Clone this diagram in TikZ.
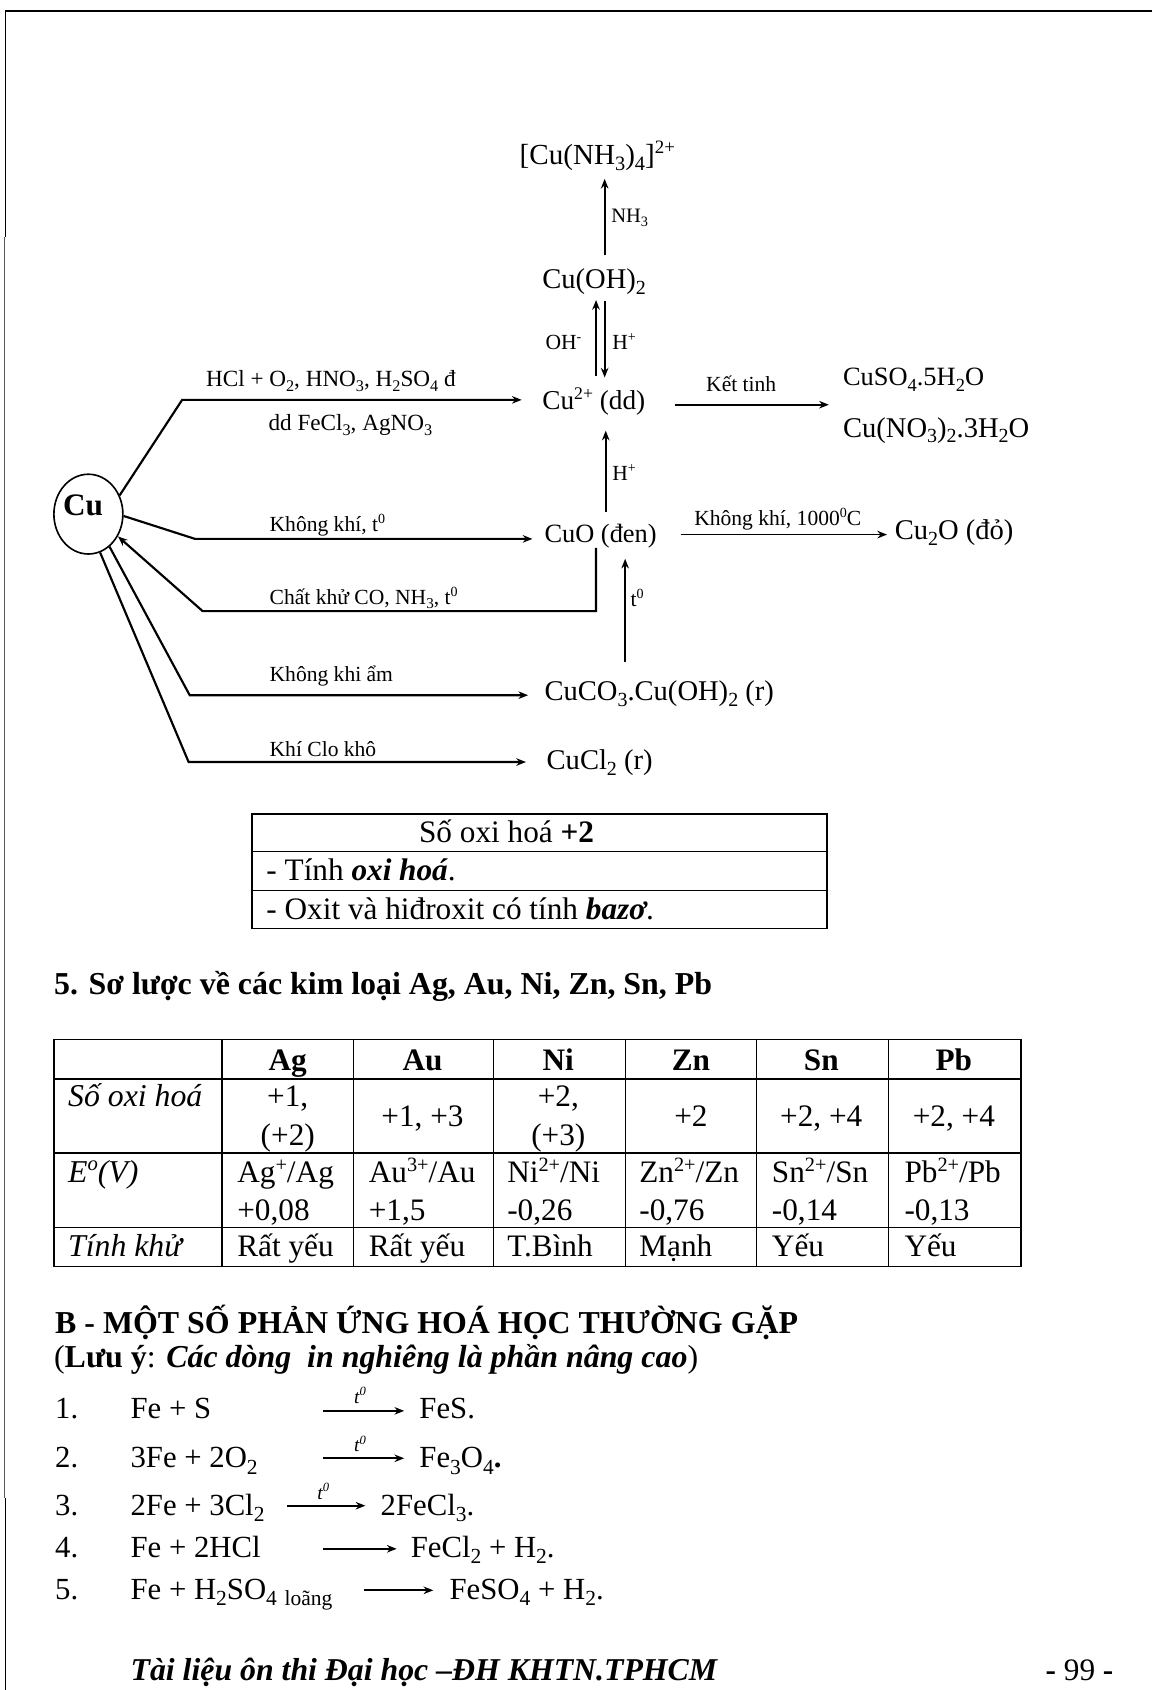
\documentclass[tikz,border=0pt]{standalone}
\usepackage{graphicx}
\usepackage{fontspec}
\setmainfont{Liberation Serif}
\usetikzlibrary{arrows.meta,shapes.geometric}
\newcommand\hii[1]{\raisebox{0.38em}{\scalebox{0.65}{#1}}}
\newcommand\loo[1]{\raisebox{-0.2em}{\scalebox{0.7}{#1}}}
\newcommand\fs[1]{\fontsize{#1}{#1}\selectfont}
\tikzset{
 x=1pt,y=-1pt,
 lab/.style={inner sep=0pt,anchor=base west},
 cen/.style={inner sep=0pt,anchor=base},
 big/.style={lab,font=\fs{26.5}},
 mid/.style={lab,font=\fs{24.5}},
 small/.style={lab,font=\fs{20}},
 body/.style={lab,font=\fs{29}},
 cell/.style={cen,font=\fs{29}},
 cellb/.style={cen,font=\fs{29}\bfseries},
 celli/.style={lab,font=\fs{29.5}\itshape},
 head/.style={lab,font=\fs{29.6}\bfseries},
 bold/.style={line width=2pt},
 thin1/.style={line width=1.6pt},
 tip/.style={-{Stealth[length=9pt,width=7pt]}},
 rule/.style={line width=1.1pt},
 rulethick/.style={line width=1.6pt},
}
\begin{document}
\begin{tikzpicture}
\useasboundingbox (0,0) rectangle (1069,1568);
% page frame
\draw[line width=1.6pt] (1069,10) -- (5,10) -- (5,220);
\draw[line width=1.4pt,black!65] (4,220) -- (4,1390);
\draw[line width=1.6pt] (5,1390) -- (5,1568);
% Cu
\node[ellipse,draw,line width=1.5pt,minimum width=64pt,minimum height=74pt,inner sep=0pt] (cu) at (82,477) {};
\node[cen,font=\fs{29}\bfseries] (cutxt) at (77,478) {Cu};
% compounds
\node[big,font=\fs{27}] (amm) at (482,153) {[Cu(NH\loo{3})\loo{4}]\hii{2+}};
\node[big] (cuoh) at (503,267.5) {Cu(OH)\loo{2}};
\node[big,font=\fs{25.3}] (cu2) at (503,380) {Cu\hii{2+} (dd)};
\node[mid] (sulf) at (782,358) {CuSO\loo{4}.5H\loo{2}O};
\node[big,font=\fs{26.5}] (nitr) at (782,405.5) {Cu(NO\loo{3})\loo{2}.3H\loo{2}O};
\node[big,font=\fs{24.5}] (cuo) at (505,503) {CuO (đen)};
\node[big] (cu2o) at (830,501) {Cu\loo{2}O (đỏ)};
\node[big] (carb) at (505,650) {CuCO\loo{3}.Cu(OH)\loo{2} (r)};
\node[big] (cucl) at (507,714) {CuCl\loo{2} (r)};
% edge labels
\node[small,font=\fs{19}] (lnh) at (567,206) {NH\loo{3}};
\node[small] (loh) at (506,324) {OH\hii{-}};
\node[small] (lh1) at (568,324) {H\hii{+}};
\node[small,font=\fs{21.5}] (lhcl) at (191,359) {HCl + O\loo{2}, HNO\loo{3}, H\loo{2}SO\loo{4} đ};
\node[small,font=\fs{21.5}] (lfe) at (249,399.5) {dd FeCl\loo{3}, AgNO\loo{3}};
\node[small] (lkt) at (655,363) {Kết tinh};
\node[small] (lh2) at (568,446) {H\hii{+}};
\node[small] (lkk) at (250,493) {Không khí, t\hii{0}};
\node[small] (lkk2) at (644,487.5) {Không khí, 1000\hii{0}C};
\node[small] (lck) at (250,561) {Chất khử CO, NH\loo{3}, t\hii{0}};
\node[small] (lt) at (585,563) {t\hii{0}};
\node[small] (lka) at (250,632.5) {Không khi ẩm};
\node[small] (lcl) at (250,702) {Khí Clo khô};
% helper coordinates
\coordinate (w1) at (169,371);
\coordinate (w2) at (181,500);
\coordinate (w3) at (188,567);
\coordinate (w4) at (176,645);
\coordinate (w5) at (175,707);
\coordinate (xnh) at (561,237);
\coordinate (xu) at (553,0);
\coordinate (xd) at (561,0);
\coordinate (xh) at (562,0);
\coordinate (xt) at (580,0);
\coordinate (xr) at (553,567);
\coordinate (ykt) at (0,375.5);
\coordinate (ykk) at (0,496);
% connectors from Cu
\draw[bold,tip,shorten >=19pt] (cu.31) -- (w1) -- (w1 -| cu2.west);
\draw[bold,tip,shorten >=11pt] (cu.-3) -- (w2) -- (w2 -| cuo.west);
\draw[bold,tip] (xr |- cuo.south) -- (xr) -- (w3) -- (cu.-37);
\draw[bold,tip,shorten >=15pt] (cu.-57) -- (w4) -- (w4 -| carb.west);
\draw[bold,tip,shorten >=19pt] (cu.-73) -- (w5) -- (w5 -| cucl.west);
% vertical arrows
\draw[thin1,tip,shorten >=7pt] (xnh) -- (xnh |- amm.south);
\draw[thin1,tip,shorten <=10pt,shorten >=5pt] (xu |- cu2.north) -- (xu |- cuoh.south);
\draw[thin1,tip,shorten <=6pt,shorten >=9pt] (xd |- cuoh.south) -- (xd |- cu2.north);
\draw[thin1,tip,shorten <=11pt,shorten >=14pt] (xh |- cuo.north) -- (xh |- cu2.south);
\draw[thin1,tip,shorten <=17pt,shorten >=10pt] (xt |- carb.north) -- (xt |- cuo.south);
% horizontal arrows
\draw[thin1,tip,shorten <=27pt,shorten >=13pt] (cu2.east |- ykt) -- (sulf.west |- ykt);
\draw[thin1,tip,shorten <=22pt,shorten >=7pt] (cuo.east |- ykk) -- (cu2o.west |- ykk);
% box
\node[cen,font=\fs{29}] (b1) at (470,782) {Số oxi hoá \textbf{+2}};
\node[body] (b2) at (247,817) {- Tính \textbf{\itshape oxi hoá}.};
\node[body] (b3) at (247,853) {- Oxit và hiđroxit có tính \textbf{\itshape bazơ}.};
\draw[rulethick] (234,755) rectangle (767,861.5);
\draw[rule] (234,790) -- (767,790) (234,826) -- (767,826);
% heading
\node[head] (h5) at (50,923) {5. Sơ lược về các kim loại Ag, Au, Ni, Zn, Sn, Pb};
% table
\draw[rulethick] (50,964.5) rectangle (947,1175);
\draw[rulethick] (50,1001) -- (947,1001) (50,1070) -- (947,1070) (50,1139) -- (947,1139);
\foreach \xx in {206,328,458,580,702,824} \draw[rule] (\xx,964.5) -- (\xx,1175);
\node[cellb] (tag) at (267,993) {Ag};
\node[cellb] (tau) at (392,993) {Au};
\node[cellb] (tni) at (518,993) {Ni};
\node[cellb] (tzn) at (641,993) {Zn};
\node[cellb] (tsn) at (762,993) {Sn};
\node[cellb] (tpb) at (885,993) {Pb};
\node[celli] (r1) at (63,1027) {Số oxi hoá};
\node[cell] (c11) at (267,1027) {+1,};
\node[cell] (c12) at (267,1063) {(+2)};
\node[cell] (c13) at (392,1045) {+1, +3};
\node[cell] (c14) at (518,1027) {+2,};
\node[cell] (c15) at (518,1063) {(+3)};
\node[cell] (c16) at (641,1045) {+2};
\node[cell] (c17) at (762,1045) {+2, +4};
\node[cell] (c18) at (885,1045) {+2, +4};
\node[celli] (r2) at (63,1097.5) {E\hii{o}(V)};
\node[body] (e1) at (220,1097.5) {Ag\hii{+}/Ag};
\node[body] (e2) at (342,1097.5) {Au\hii{3+}/Au};
\node[body] (e3) at (470.5,1097.5) {Ni\hii{2+}/Ni};
\node[body] (e4) at (593,1097.5) {Zn\hii{2+}/Zn};
\node[body] (e5) at (716,1097.5) {Sn\hii{2+}/Sn};
\node[body] (e6) at (839,1097.5) {Pb\hii{2+}/Pb};
\node[body] (v1) at (220,1132) {+0,08};
\node[body] (v2) at (342,1132) {+1,5};
\node[body] (v3) at (470.5,1132) {-0,26};
\node[body] (v4) at (593,1132) {-0,76};
\node[body] (v5) at (716,1132) {-0,14};
\node[body] (v6) at (839,1132) {-0,13};
\node[celli] (r3) at (63,1166) {Tính khử};
\node[body] (k1t) at (220,1166) {Rất yếu};
\node[body] (k2t) at (342,1166) {Rất yếu};
\node[body] (k3t) at (470.5,1166) {T.Bình};
\node[body] (k4t) at (593,1166) {Mạnh};
\node[body] (k5t) at (716,1166) {Yếu};
\node[body] (k6t) at (839,1166) {Yếu};
% section B
\node[head] (hb) at (51,1237) {B - MỘT SỐ PHẢN ỨNG HOÁ HỌC THƯỜNG GẶP};
\node[lab,font=\fs{29.6}] (hc) at (50,1269) {(\textbf{Lưu ý}: \textbf{\itshape Các dòng\ \ in nghiêng là phần nâng cao})};
% equations
\node[body,font=\fs{28.5}] (n1) at (51,1316) {1.};
\node[body,font=\fs{28.5}] (n2) at (51,1362) {2.};
\node[body,font=\fs{28.5}] (n3) at (51,1406) {3.};
\node[body,font=\fs{28.5}] (n4) at (51,1445) {4.};
\node[body,font=\fs{28.5}] (n5) at (51,1484) {5.};
\node[body,font=\fs{28.5}] (l1) at (121,1316) {Fe + S};
\node[body,font=\fs{28.5}] (l2) at (121,1362) {3Fe + 2O\loo{2}};
\node[body,font=\fs{28.5}] (l3) at (121,1406) {2Fe + 3Cl\loo{2}};
\node[body,font=\fs{28.5}] (l4) at (121,1445) {Fe + 2HCl};
\node[body,font=\fs{28.5}] (l5) at (121,1484) {Fe + H\loo{2}SO\loo{4} \loo{loãng}};
\node[body,font=\fs{28.5}] (p1) at (389,1316) {FeS.};
\node[body,font=\fs{28.5}] (p2) at (389,1362) {Fe\loo{3}O\loo{4}\textbf{.}};
\node[body,font=\fs{28.5}] (p3) at (353,1406) {2FeCl\loo{3}.};
\node[body,font=\fs{28.5}] (p4) at (381,1445) {FeCl\loo{2} + H\loo{2}.};
\node[body,font=\fs{28.5}] (p5) at (417,1484) {FeSO\loo{4} + H\loo{2}.};
\coordinate (a1) at (300,1309);
\coordinate (a2) at (300,1353);
\coordinate (a3) at (266,1397);
\coordinate (a4) at (300,1437);
\coordinate (a5) at (338,1475.5);
\draw[thin1,tip,shorten >=14pt] (a1) -- (a1 -| p1.west);
\draw[thin1,tip,shorten >=14pt] (a2) -- (a2 -| p2.west);
\draw[thin1,tip,shorten >=14pt] (a3) -- (a3 -| p3.west);
\draw[thin1,tip,shorten >=13pt] (a4) -- (a4 -| p4.west);
\draw[thin1,tip,shorten >=15pt] (a5) -- (a5 -| p5.west);
\node[cen,font=\fs{18}\itshape] (t1) at (334,1302) {t\hii{0}};
\node[cen,font=\fs{18}\itshape] (t2) at (334,1347) {t\hii{0}};
\node[cen,font=\fs{18}\itshape] (t3) at (300,1391) {t\hii{0}};
% footer
\node[lab,font=\fs{29.5}\bfseries\itshape] (f1) at (121,1559) {Tài liệu ôn thi Đại học –ĐH KHTN.TPHCM};
\node[lab,font=\fs{29}] (f2) at (970,1559) {\textbf{-} 99 \textbf{-}};
\end{tikzpicture}
\end{document}
